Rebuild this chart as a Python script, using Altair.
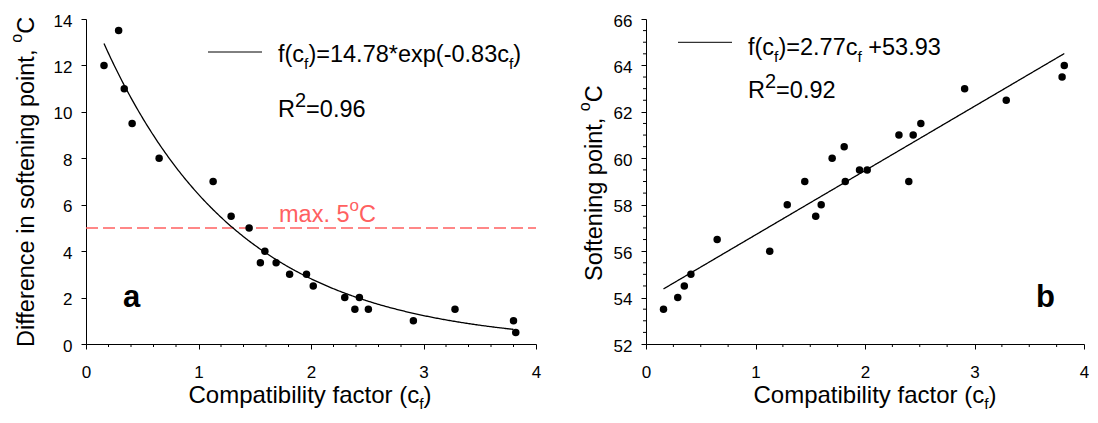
import altair as alt
import pandas as pd

# ---------------- data ----------------
cf_a = [0.16, 0.29, 0.34, 0.41, 0.65, 1.13, 1.29, 1.45, 1.55, 1.59, 1.69,
        1.81, 1.96, 2.02, 2.30, 2.39, 2.43, 2.51, 2.91, 3.28, 3.80, 3.82]
dsp_a = [12.0, 13.5, 11.0, 9.5, 8.0, 7.0, 5.5, 5.0, 3.5, 4.0, 3.5,
         3.0, 3.0, 2.5, 2.0, 1.5, 2.0, 1.5, 1.0, 1.5, 1.0, 0.5]

cf_b = [0.16, 0.29, 0.35, 0.41, 0.65, 1.13, 1.29, 1.45, 1.55, 1.60, 1.70, 1.81,
        1.82, 1.95, 2.02, 2.31, 2.40, 2.44, 2.51, 2.91, 3.29, 3.80, 3.82]
sp_b = [53.5, 54.0, 54.5, 55.0, 56.5, 56.0, 58.0, 59.0, 57.5, 58.0, 60.0, 60.5,
        59.0, 59.5, 59.5, 61.0, 59.0, 61.0, 61.5, 63.0, 62.5, 63.5, 64.0]

fit_a_coef, fit_a_rate, fit_a_range = 14.78, -0.83, [0.16, 3.81]
fit_b_slope, fit_b_icpt, fit_b_range = 2.77, 53.93, [0.16, 3.83]
limit_a = [5]

x_major = [0, 1, 2, 3, 4]
x_minor_a = [0.2, 0.4, 0.6, 0.8, 1.2, 1.4, 1.6, 1.8, 2.2, 2.4, 2.6, 2.8,
             3.2, 3.4, 3.6, 3.8]
x_minor_b = [0.25, 0.5, 0.75, 1.25, 1.5, 1.75, 2.25, 2.5, 2.75, 3.25, 3.5, 3.75]
y_major_a = [0, 2, 4, 6, 8, 10, 12, 14]
y_major_b = [52, 54, 56, 58, 60, 62, 64, 66]
y_minor_b = [52.5, 53, 53.5, 54.5, 55, 55.5, 56.5, 57, 57.5, 58.5, 59, 59.5,
             60.5, 61, 61.5, 62.5, 63, 63.5, 64.5, 65, 65.5]

# ---------------- styling ----------------
FONT = "Liberation Sans"
RED = "#ff6060"
WA, WB, H = 450, 438, 325
ONE = pd.DataFrame({"k": [0]})
TF = 23.5   # title / legend font size

# Liberation Sans (Arial metrics) advance widths per 1000 em
CW = {' ': 278, '(': 333, ')': 333, '*': 389, '+': 584, ',': 278, '-': 333,
      '.': 278, '=': 584, 'C': 722, 'D': 722, 'R': 722, 'S': 667, 'a': 556,
      'b': 556, 'c': 500, 'e': 556, 'f': 278, 'g': 556, 'i': 222, 'l': 222,
      'm': 833, 'n': 556, 'o': 556, 'p': 556, 'r': 333, 's': 500, 't': 278,
      'x': 500, 'y': 500}


def tw(s, fs):
    return sum(CW.get(c, 556) for c in s) * fs / 1000.0


def rich(segs, x0, y0, angle=0, color="black", weight="normal"):
    out = []
    cum = 0.0
    for s, fs, sh in segs:
        lead = len(s) - len(s.lstrip(" "))
        cum += tw(" " * lead, fs)
        s2 = s.strip(" ")
        if angle == 0:
            px, py = x0 + cum, y0 - sh
        else:
            px, py = x0 - sh, y0 - cum
        kw = dict(text=s2, font=FONT, fontSize=fs, align="left",
                  baseline="alphabetic", color=color, fontWeight=weight)
        if angle:
            kw["angle"] = angle
        out.append(alt.Chart(ONE).mark_text(**kw).encode(
            x=alt.value(px), y=alt.value(py)))
        cum += tw(s[lead:], fs)
    return out


def centered(segs, cx, y0):
    total = sum(tw(s, fs) for s, fs, _ in segs)
    return rich(segs, cx - total / 2.0, y0)


XT = [("Compatibility factor (c", 24, 0), ("f", 15.5, -6), (")", 24, 0)]

xs = alt.Scale(domain=[0, 4], nice=False, zero=False)
xax = alt.Axis(values=x_major, format="d", title=None, labelPadding=15,
               labelFlush=False)

# ---------------- panel a ----------------
ys_a = alt.Scale(domain=[0, 14], nice=False, zero=False)
yax_a = alt.Axis(values=y_major_a, format="d", title=None, labelPadding=9,
                 labelOffset=2)
df_a = pd.DataFrame({"cf": cf_a, "dsp": dsp_a})

limit_layer = alt.Chart(pd.DataFrame({"lim": limit_a})).mark_rule(
    color=RED, strokeDash=[12, 5], strokeWidth=1.5).encode(
    y=alt.Y("lim:Q", scale=ys_a, axis=yax_a), x=alt.value(0), x2=alt.value(WA))
fit_a = alt.Chart(alt.sequence(fit_a_range[0], fit_a_range[1], 0.01, as_="cf")
                  ).transform_calculate(
    dsp=f"{fit_a_coef}*exp({fit_a_rate}*datum.cf)").mark_line(
    color="black", strokeWidth=1.3).encode(
    x=alt.X("cf:Q", scale=xs, axis=xax), y=alt.Y("dsp:Q", scale=ys_a, axis=yax_a))
pts_a = alt.Chart(df_a).mark_circle(size=56, color="black", opacity=1).encode(
    x=alt.X("cf:Q", scale=xs, axis=xax), y=alt.Y("dsp:Q", scale=ys_a, axis=yax_a))
minor_a = alt.Chart(pd.DataFrame({"m": x_minor_a})).mark_rule(
    color="black", strokeWidth=1).encode(
    x=alt.X("m:Q", scale=xs, axis=xax), y=alt.value(H), y2=alt.value(H + 3))
leg_a = alt.Chart(ONE).mark_rule(color="black", strokeWidth=1).encode(
    x=alt.value(122), x2=alt.value(176), y=alt.value(33))
# invisible frame that fixes the chart's outer extent
pin = alt.Chart(ONE).mark_rule(opacity=0, strokeOpacity=0).encode(
    x=alt.value(-78), y=alt.value(-11), y2=alt.value(395))

texts_a = []
texts_a += rich([("f(c", TF, 0), ("f", 15.5, -7), (")=14.78*exp(-0.83c", TF, 0),
                 ("f", 15.5, -7), (")", TF, 0)], 192, 42.5)
texts_a += rich([("R", TF, 0), ("2", 20, 10), ("=0.96", TF, 0)], 192, 98)
texts_a += rich([("a", 31, 0)], 37, 288, weight="bold")
texts_a += rich([("max. 5", TF, 0), ("o", 17, 11), ("C", TF, 0)], 193, 203,
                color=RED)
texts_a += rich([("Difference in softening point, ", TF, 0), ("o", 16, 12),
                 ("C", TF, 0)], -52, 328, angle=270)
texts_a += centered(XT, 224, 384)

panel_a = alt.layer(pin, limit_layer, fit_a, pts_a, minor_a, leg_a, *texts_a
                    ).properties(width=WA, height=H)

# ---------------- panel b ----------------
ys_b = alt.Scale(domain=[52, 66], nice=False, zero=False)
yax_b = alt.Axis(values=y_major_b, format="d", title=None, labelPadding=9,
                 labelOffset=2)
df_b = pd.DataFrame({"cf": cf_b, "sp": sp_b})

fit_b = alt.Chart(alt.sequence(fit_b_range[0], fit_b_range[1], 0.01, as_="cf")
                  ).transform_calculate(
    sp=f"{fit_b_slope}*datum.cf+{fit_b_icpt}").mark_line(
    color="black", strokeWidth=1.3).encode(
    x=alt.X("cf:Q", scale=xs, axis=xax), y=alt.Y("sp:Q", scale=ys_b, axis=yax_b))
pts_b = alt.Chart(df_b).mark_circle(size=56, color="black", opacity=1).encode(
    x=alt.X("cf:Q", scale=xs, axis=xax), y=alt.Y("sp:Q", scale=ys_b, axis=yax_b))
minor_bx = alt.Chart(pd.DataFrame({"m": x_minor_b})).mark_rule(
    color="black", strokeWidth=1).encode(
    x=alt.X("m:Q", scale=xs, axis=xax), y=alt.value(H), y2=alt.value(H + 3))
minor_by = alt.Chart(pd.DataFrame({"m": y_minor_b})).mark_rule(
    color="black", strokeWidth=1).encode(
    y=alt.Y("m:Q", scale=ys_b, axis=yax_b), x=alt.value(-3), x2=alt.value(0))
leg_b = alt.Chart(ONE).mark_rule(color="black", strokeWidth=1).encode(
    x=alt.value(32), x2=alt.value(86), y=alt.value(23.3))

texts_b = []
texts_b += rich([("f(c", TF, 0), ("f", 15.5, -7), (")=2.77c", TF, 0),
                 ("f", 15.5, -7), (" +53.93", TF, 0)], 102, 36)
texts_b += rich([("R", TF, 0), ("2", 20, 10), ("=0.92", TF, 0)], 102, 79)
texts_b += rich([("b", 31, 0)], 390, 288, weight="bold")
texts_b += rich([("Softening point, ", TF, 0), ("o", 16, 12), ("C", TF, 0)],
                -44, 262, angle=270)
texts_b += centered(XT, 229, 384)

panel_b = alt.layer(fit_b, pts_b, minor_bx, minor_by, leg_b, *texts_b
                    ).properties(width=WB, height=H)

chart = alt.hconcat(panel_a, panel_b, spacing=110, bounds="flush").properties(
    padding=0
).configure_view(stroke=None).configure_axis(
    domainColor="black", tickColor="black", labelColor="black",
    labelFont=FONT, labelFontSize=17, tickSize=5, domainWidth=1, tickWidth=1,
    grid=False)

chart.save("out.html", embed_options={"renderer": "svg", "actions": False})
